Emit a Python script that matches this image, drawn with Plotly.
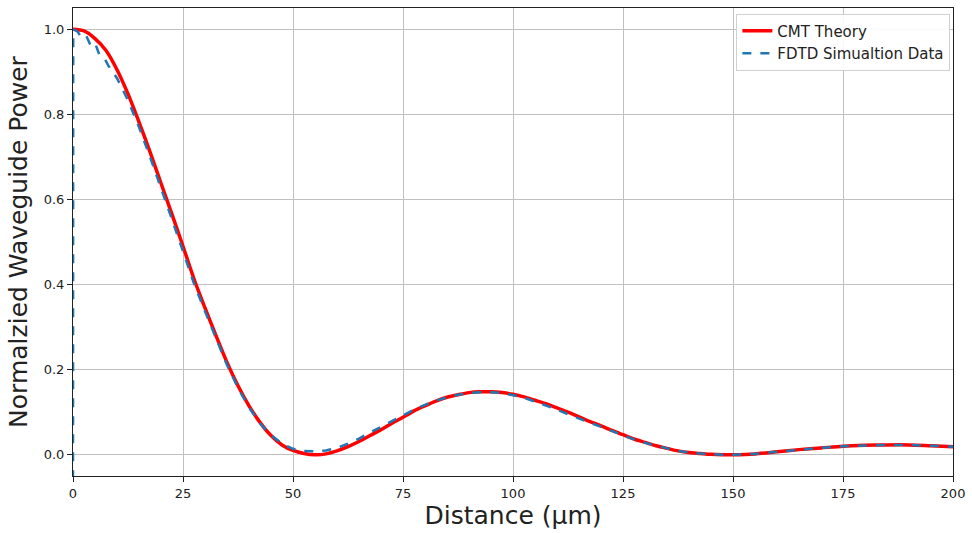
import plotly.graph_objects as go

# CMT theory curve
cmt_x = [0, 2.5, 5, 7.5, 10, 12.5, 15, 17.5, 20, 22.5, 25, 27.5, 30, 32.5, 35, 37.5, 40,
         42.5, 45, 47.5, 50, 52.5, 55, 57.5, 60, 62.5, 65, 67.5, 70, 72.5, 75, 77.5, 80,
         82.5, 85, 87.5, 90, 92.5, 95, 97.5, 100, 102.5, 105, 107.5, 110, 112.5, 115,
         117.5, 120, 122.5, 125, 127.5, 130, 132.5, 135, 137.5, 140, 142.5, 145, 147.5,
         150, 155, 160, 165, 170, 175, 180, 185, 190, 195, 200]
cmt_y = [1.0, 0.996, 0.978, 0.95, 0.905, 0.848, 0.782, 0.712, 0.638, 0.565, 0.49, 0.413, 0.345,
         0.28, 0.217, 0.162, 0.115, 0.076, 0.045, 0.023, 0.01, 0.003, 0.0, 0.002, 0.009,
         0.019, 0.031, 0.045, 0.059, 0.074, 0.088, 0.103, 0.115, 0.126, 0.135, 0.141,
         0.146, 0.148, 0.148, 0.146, 0.142, 0.136, 0.128, 0.12, 0.11, 0.1, 0.089, 0.078,
         0.068, 0.057, 0.047, 0.037, 0.029, 0.021, 0.015, 0.009, 0.005, 0.003, 0.001, 0.0,
         0.0, 0.002, 0.007, 0.012, 0.016, 0.02, 0.022, 0.023, 0.023, 0.021, 0.019]

# FDTD simulation data
fdtd_x = [0, 0.05, 1, 2, 3, 4, 5, 6, 7, 8, 9, 10, 12.5, 15, 17.5, 20, 22.5, 25, 27.5, 30,
          32.5, 35, 37.5, 40, 42.5, 45, 47.5, 50, 52.5, 55, 57.5, 60, 62.5, 65, 67.5, 70,
          72.5, 75, 77.5, 80, 82.5, 85, 87.5, 90, 92.5, 95, 97.5, 100, 102.5, 105, 107.5,
          110, 112.5, 115, 117.5, 120, 122.5, 125, 127.5, 130, 132.5, 135, 137.5, 140,
          142.5, 145, 147.5, 150, 155, 160, 165, 170, 175, 180, 185, 190, 195, 200]
fdtd_y = [-0.1, 1.0, 0.995, 0.98, 0.985, 0.962, 0.968, 0.94, 0.935, 0.915, 0.9, 0.885,
          0.833, 0.77, 0.7, 0.628, 0.553, 0.478, 0.402, 0.337, 0.272, 0.211, 0.157, 0.111,
          0.074, 0.046, 0.026, 0.014, 0.009, 0.008, 0.01, 0.016, 0.026, 0.038, 0.052,
          0.066, 0.08, 0.093, 0.106, 0.117, 0.127, 0.135, 0.141, 0.145, 0.147, 0.147,
          0.145, 0.14, 0.134, 0.125, 0.116, 0.106, 0.095, 0.085, 0.075, 0.065, 0.055,
          0.046, 0.036, 0.028, 0.021, 0.015, 0.009, 0.005, 0.003, 0.001, 0.0, 0.0, 0.002,
          0.007, 0.012, 0.016, 0.02, 0.022, 0.023, 0.023, 0.021, 0.019]

x_ticks = [0, 25, 50, 75, 100, 125, 150, 175, 200]
y_ticks = [0.0, 0.2, 0.4, 0.6, 0.8, 1.0]

fig = go.Figure()
fig.add_trace(go.Scatter(x=cmt_x, y=cmt_y, mode="lines", name="CMT Theory",
                         line=dict(color="#ff0000", width=3.5, shape="spline",
                                   smoothing=0.8)))
fig.add_trace(go.Scatter(x=fdtd_x, y=fdtd_y, mode="lines", name="FDTD Simualtion Data",
                         line=dict(color="#1f77b4", width=2.5, dash="dash")))

font = "DejaVu Sans, sans-serif"
axis_common = dict(showgrid=True, gridcolor="#c0c0c0", gridwidth=1, showline=True,
                   linecolor="#222", linewidth=1, mirror=True, ticks="outside",
                   ticklen=5, tickcolor="#222", zeroline=False, layer="below traces",
                   tickfont=dict(family=font, size=13, color="#222"))
fig.update_layout(
    width=972, height=533,
    margin=dict(l=73, r=15, t=7, b=57),
    paper_bgcolor="white", plot_bgcolor="white",
    font=dict(family=font, color="#222"),
    xaxis=dict(range=[0, 200], tickvals=x_ticks, ticktext=[str(v) for v in x_ticks],
               title=dict(text="Distance (µm)", font=dict(family=font, size=25),
                          standoff=6), **axis_common),
    yaxis=dict(range=[-0.05, 1.05], tickvals=y_ticks,
               ticktext=[f"{v:.1f}" for v in y_ticks],
               title=dict(text="Normalzied Waveguide Power", font=dict(family=font, size=25),
                          standoff=8), **axis_common),
    legend=dict(x=0.997, y=0.988, xanchor="right", yanchor="top",
                bgcolor="rgba(255,255,255,0.9)", bordercolor="#d0d0d0", borderwidth=1,
                font=dict(family=font, size=15), tracegroupgap=0),
    showlegend=True,
)
fig.write_html("out.html")
